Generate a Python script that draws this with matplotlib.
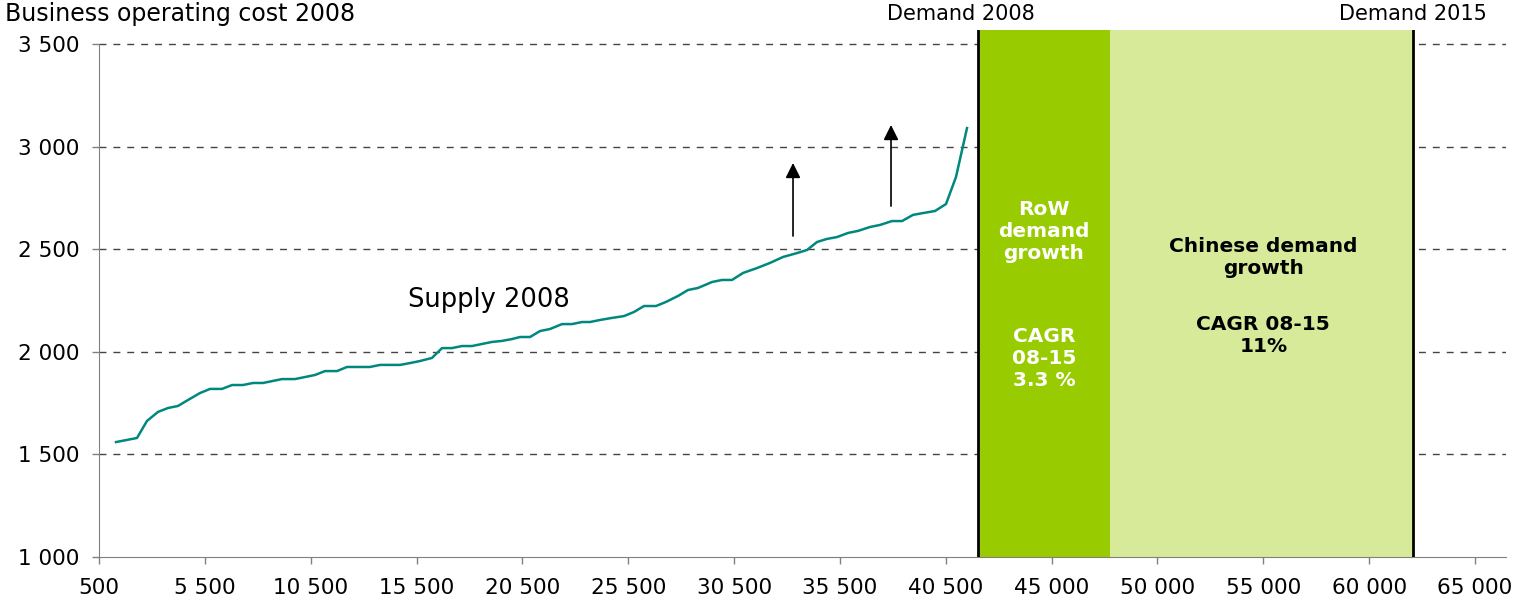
# Cost curve: supply 2008 vs demand growth 2008-2015
import matplotlib.pyplot as plt

# Supply curve (cumulative capacity position, business operating cost)
supply_x = [1303, 2295, 2767, 3287, 3759, 4232, 4704, 5271, 5743, 6310, 6783, 7302,
            7775, 8247, 8719, 9145, 9759, 10231, 10704, 11176, 11743, 12215, 12688,
            13302, 13774, 14719, 15191, 15664, 16230, 16703, 17175, 17648, 18120,
            18592, 19065, 19537, 20009, 20387, 20860, 21332, 21805, 22372, 22844,
            23316, 23694, 24166, 24733, 25300, 25772, 26244, 26812, 27284, 27851,
            28323, 28795, 29457, 29929, 30401, 30921, 31582, 32196, 32810, 33472,
            33944, 34417, 34889, 35361, 35881, 36353, 36920, 37392, 37959, 38432,
            38951, 39424, 39990, 40510, 40982, 41502]
supply_y = [1560, 1580, 1663, 1707, 1726, 1736, 1765, 1799, 1819, 1819, 1838, 1838,
            1848, 1848, 1858, 1867, 1867, 1877, 1887, 1906, 1906, 1926, 1926,
            1926, 1936, 1936, 1945, 1955, 1970, 2018, 2018, 2028, 2028,
            2038, 2048, 2053, 2062, 2072, 2072, 2101, 2111, 2135, 2135,
            2145, 2145, 2155, 2165, 2174, 2194, 2223, 2223, 2243, 2272,
            2301, 2311, 2340, 2350, 2350, 2384, 2408, 2433, 2462, 2481,
            2496, 2535, 2550, 2559, 2579, 2589, 2608, 2618, 2637, 2637,
            2667, 2676, 2686, 2720, 2852, 3090]

# Demand positions
demand_2008 = 42021
row_growth_end = 48256
demand_2015 = 62569

# Arrows (x, y_start, y_end)
arrows = [(33283, 2564, 2920), (37912, 2710, 3105)]

x_ticks = [500 + 5000 * i for i in range(14)]
x_labels = ['500', '5 500', '10 500', '15 500', '20 500', '25 500', '30 500',
            '35 500', '40 500', '45 000', '50 000', '55 000', '60 000', '65 000']
y_ticks = [1000, 1500, 2000, 2500, 3000, 3500]
y_labels = ['1 000', '1 500', '2 000', '2 500', '3 000', '3 500']

fig = plt.figure(figsize=(15.31, 6.03), dpi=100)
ax = fig.add_axes([99 / 1531, 1 - 557 / 603, 1407 / 1531, 527 / 603])

ymin, ymax = 1000, 3568
ax.set_xlim(500, 66962)
ax.set_ylim(ymin, ymax)

# growth blocks
ax.axvspan(demand_2008, row_growth_end, color='#99CC00', lw=0, zorder=1)
ax.axvspan(row_growth_end, demand_2015, color='#D6EA9A', lw=0, zorder=1)
ax.axvline(demand_2008, color='black', lw=2, zorder=3)
ax.axvline(demand_2015, color='black', lw=2, zorder=3)

# gridlines
for yv in y_ticks[1:]:
    ax.axhline(yv, color='#444444', lw=1, ls=(0, (5, 5)), zorder=0.5)

ax.plot(supply_x, supply_y, color='#00887F', lw=1.8, zorder=4)

for xa, y0, y1 in arrows:
    ax.annotate('', xy=(xa, y1), xytext=(xa, y0),
                arrowprops=dict(arrowstyle='-|>,head_length=0.9,head_width=0.45',
                                color='black', lw=1.2, shrinkA=0, shrinkB=0),
                zorder=5)

ax.text(18923, 2252, 'Supply 2008', fontsize=18.5, ha='center', va='center')

box_font = dict(fontsize=14.5, fontweight='bold', ha='center', va='center',
                linespacing=1.2)
ax.text(45138, 2584, 'RoW\ndemand\ngrowth', color='white', **box_font)
ax.text(45138, 1965, 'CAGR\n08-15\n3.3 %', color='white', **box_font)
ax.text(55500, 2459, 'Chinese demand\ngrowth', color='black', **box_font)
ax.text(55500, 2079, 'CAGR 08-15\n11%', color='black', **box_font)

ax.text(41219, 3646, 'Demand 2008', fontsize=15, ha='center', va='center', clip_on=False)
ax.text(demand_2015, 3646, 'Demand 2015', fontsize=15, ha='center', va='center', clip_on=False)

fig.text(5 / 1531, 1 - 14 / 603, 'Business operating cost 2008', fontsize=17,
         ha='left', va='center')

ax.set_xticks(x_ticks)
ax.set_xticklabels(x_labels, fontsize=15.5)
ax.set_yticks(y_ticks)
ax.set_yticklabels(y_labels, fontsize=15.5)
ax.tick_params(axis='both', direction='out', length=5, color='#808080', width=1)
ax.tick_params(axis='x', pad=10)
ax.tick_params(axis='y', pad=9)

for side in ['top', 'right']:
    ax.spines[side].set_visible(False)
ax.spines['left'].set_bounds(ymin, 3500)
ax.spines['left'].set_color('#808080')
ax.spines['bottom'].set_color('#808080')

fig.savefig('out.png', dpi=100)
